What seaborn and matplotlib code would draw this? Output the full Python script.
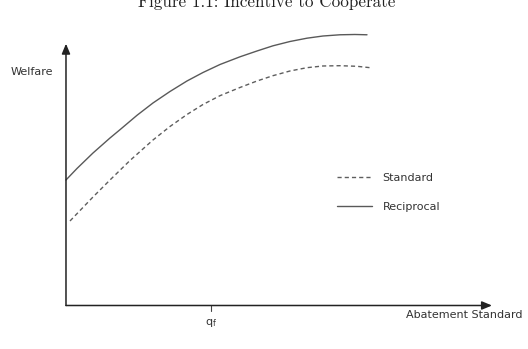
import numpy as np
import pandas as pd
import seaborn as sns
import matplotlib.pyplot as plt

# curves (x: abatement standard, y: welfare, axis arrows at 100)
abatement_recip = [0.00, 2.58, 6.34, 10.33, 12.68, 16.67, 20.42, 24.41, 28.40, 32.16,
                   36.15, 40.85, 44.84, 48.59, 52.58, 56.57, 60.33, 64.32, 67.84, 70.66]
welfare_recip = [48.18, 52.59, 58.54, 64.30, 67.49, 73.01, 77.74, 82.15, 86.18, 89.44,
                 92.51, 95.47, 97.70, 99.69, 101.34, 102.61, 103.45, 103.92, 104.03, 103.92]

abatement_std = [0.94, 6.34, 10.33, 15.02, 20.42, 24.41, 28.40, 32.16, 36.15,
                 40.85, 44.84, 48.59, 52.58, 56.57, 60.33, 64.32, 68.31, 71.36]
welfare_std = [32.44, 41.65, 48.18, 55.66, 63.53, 68.71, 73.32, 77.16, 80.54,
               83.69, 86.18, 88.22, 90.02, 91.29, 91.94, 92.05, 91.82, 91.29]

q_f = 34.0
labels = ['Standard', 'Reciprocal']

df_std = pd.DataFrame({'abatement': abatement_std, 'welfare': welfare_std})
df_rec = pd.DataFrame({'abatement': abatement_recip, 'welfare': welfare_recip})

sns.set_style('white')
plt.rcParams['font.family'] = ['DejaVu Sans']

fig = plt.figure(figsize=(5.28, 3.49), dpi=100)
ax = fig.add_axes([0, 0, 1, 1])

sns.lineplot(data=df_std, x='abatement', y='welfare', ax=ax, sort=False,
             color='#5e5e5e', lw=1.0, label=labels[0])
ax.lines[-1].set_linestyle((0, (3, 2.2)))
sns.lineplot(data=df_rec, x='abatement', y='welfare', ax=ax, sort=False,
             color='#595959', lw=1.0, label=labels[1])

# axes arrows
arrow = dict(arrowstyle='-|>,head_length=0.6,head_width=0.25', color='#222222',
             lw=1.1, shrinkA=0, shrinkB=0)
ax.annotate('', xy=(100, 0), xytext=(0, 0), arrowprops=arrow)
ax.annotate('', xy=(0, 100.5), xytext=(0, 0), arrowprops=arrow)
ax.plot([q_f, q_f], [0, -2.3], color='#444444', lw=0.8)

ax.text(-8.1, 89.6, 'Welfare', ha='center', va='center', fontsize=8, color='#333333')
ax.text(93.4, -3.6, 'Abatement Standard', ha='center', va='center', fontsize=8, color='#333333')
ax.text(q_f, -6.7, r'q$_{\mathrm{f}}$', ha='center', va='center', fontsize=8, color='#333333')

ax.set_xlim(-15.49, 108.45)
ax.set_ylim(-16.70, 117.27)
ax.axis('off')

leg = ax.legend(loc='center left', bbox_to_anchor=(0.638, 0.448), frameon=False,
                fontsize=8, handlelength=3.2, handletextpad=0.9, labelspacing=1.75,
                borderpad=0, borderaxespad=0)
for t in leg.get_texts():
    t.set_color('#333333')

fig.text(0.505, 1 - 7 / 349, 'Figure 1.1: Incentive to Cooperate',
         ha='center', va='baseline', fontsize=12.3, family='cmr10', color='#222222')

fig.savefig('out.png', dpi=100)
